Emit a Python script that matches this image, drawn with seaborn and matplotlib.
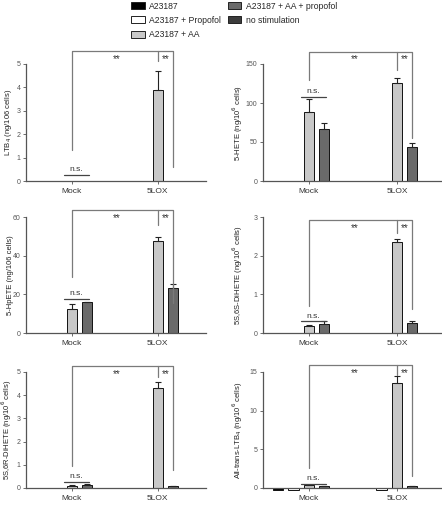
import matplotlib
matplotlib.use("Agg")
import matplotlib.pyplot as plt
from matplotlib.patches import Patch
import seaborn as sns
import pandas as pd
import numpy as np

sns.set_style("white")
plt.rcParams['font.family'] = ['Liberation Sans', 'DejaVu Sans']

# ---------------- data ----------------
cells = ["Mock", "5LOX"]
conditions = ["A23187", "A23187 + Propofol", "A23187 + AA",
              "A23187 + AA + propofol", "no stimulation"]
colors = ["#000000", "#ffffff", "#c8c8c8", "#6a6a6a", "#3c3c3c"]

ylabels = ["LTB$_4$ (ng/106 cells)",
           "5-HETE (ng/10$^6$ cells)",
           "5-HpETE (ng/106 cells)",
           "5S,6S-DiHETE (ng/10$^6$ cells)",
           "5S,6R-DiHETE (ng/10$^6$ cells)",
           "All-trans-LTB$_4$ (ng/10$^6$ cells)"]
ymax = [5, 150, 60, 3, 5, 15]
ytick_step = [1, 50, 20, 1, 1, 5]

# values per condition: [Mock, 5LOX]; None = not measured / not shown
ltb4_mean = {"A23187 + AA": [0.02, 3.9], "A23187 + AA + propofol": [0.02, 0.02]}
ltb4_err = {"A23187 + AA": [0.0, 0.81], "A23187 + AA + propofol": [0.0, 0.0]}

hete_mean = {"A23187 + AA": [89, 125.6], "A23187 + AA + propofol": [67, 44]}
hete_err = {"A23187 + AA": [16, 6.5], "A23187 + AA + propofol": [8, 4.4]}

hpete_mean = {"A23187 + AA": [12.5, 47.5], "A23187 + AA + propofol": [15.9, 23.1]}
hpete_err = {"A23187 + AA": [2.4, 2.2], "A23187 + AA + propofol": [0.2, 2.3]}

ss_mean = {"A23187 + AA": [0.18, 2.35], "A23187 + AA + propofol": [0.24, 0.26]}
ss_err = {"A23187 + AA": [0.03, 0.07], "A23187 + AA + propofol": [0.06, 0.05]}

sr_mean = {"A23187 + AA": [0.1, 4.31], "A23187 + AA + propofol": [0.14, 0.07]}
sr_err = {"A23187 + AA": [0.02, 0.26], "A23187 + AA + propofol": [0.02, 0.02]}

atltb4_mean = {"A23187": [-0.25, None], "A23187 + Propofol": [-0.2, -0.2],
               "A23187 + AA": [0.38, 13.6], "A23187 + AA + propofol": [0.25, 0.2]}
atltb4_err = {"A23187": [0.0, None], "A23187 + Propofol": [0.0, 0.0],
              "A23187 + AA": [0.05, 0.9], "A23187 + AA + propofol": [0.03, 0.03]}

panel_means = [ltb4_mean, hete_mean, hpete_mean, ss_mean, sr_mean, atltb4_mean]
panel_errs = [ltb4_err, hete_err, hpete_err, ss_err, sr_err, atltb4_err]

# significance annotation heights (data units): top line, left leg end,
# right leg end, middle leg end, n.s. line
sig_top = [5.54, 166, 63.4, 2.91, 5.26, 15.85]
sig_left = [1.33, 130, 29, 0.69, 0.93, 2.56]
sig_right = [0.61, 55, 15.4, 0.62, 0.79, 1.6]
sig_mid = [5.11, 142, 55.7, 2.59, 4.79, 14.66]
ns_line = [0.26, 108, 17.5, 0.30, 0.26, 0.56]

# ---------------- layout ----------------
W, H = 442, 505
fig = plt.figure(figsize=(W / 100, H / 100), dpi=100)

rows = [(64, 181), (217, 333), (372, 488)]
cols = [(26, 180, (-0.53, 1.56), -0.068), (263, 178, (-0.52, 1.5), -0.1)]

n = len(conditions)
total_w = 0.87
gap = 0.33
slot = total_w / n

line_col = "#7a7a7a"
spine_col = "#555555"

for k in range(6):
    r, c = divmod(k, 2)
    top, bot = rows[r]
    left, width, xl, lab_x = cols[c]
    ax = fig.add_axes([left / W, 1 - bot / H, width / W, (bot - top) / H])

    recs = []
    for cond in conditions:
        vals = panel_means[k].get(cond)
        if vals is None:
            continue
        for cell, v in zip(cells, vals):
            if v is not None:
                recs.append({"cell": cell, "cond": cond, "value": v})
    df = pd.DataFrame(recs)

    sns.barplot(data=df, x="cell", y="value", hue="cond", order=cells,
                hue_order=conditions, palette=dict(zip(conditions, colors)),
                width=total_w, gap=gap, edgecolor="#111111", linewidth=0.7,
                errorbar=None, legend=False, ax=ax)
    for p in ax.patches:
        p.set_clip_on(False)

    # error bars (upper only)
    for j, cond in enumerate(conditions):
        errs = panel_errs[k].get(cond)
        vals = panel_means[k].get(cond)
        if errs is None:
            continue
        for i, (v, e) in enumerate(zip(vals, errs)):
            if v is None or e is None or e <= 0:
                continue
            xpos = i + (j - (n - 1) / 2) * slot
            ax.errorbar([xpos], [v], yerr=[[0], [e]], fmt="none",
                        ecolor="#222222", elinewidth=0.8, capsize=2.5,
                        capthick=0.8, clip_on=False)

    ax.set_xlim(*xl)
    ax.set_ylim(0, ymax[k])
    ax.set_yticks(np.arange(0, ymax[k] + 0.001, ytick_step[k]))
    ax.set_xlabel("")
    ax.set_ylabel(ylabels[k], fontsize=5.5, color="#222222")
    ax.yaxis.set_label_coords(lab_x, 0.5)
    for s in ["top", "right"]:
        ax.spines[s].set_visible(False)
    for s in ["left", "bottom"]:
        ax.spines[s].set_color(spine_col)
        ax.spines[s].set_linewidth(0.9)
    ax.tick_params(axis="y", labelsize=5, length=2.5, width=0.6,
                   colors=spine_col, pad=1.5, direction="out", left=True)
    ax.tick_params(axis="x", labelsize=6, length=2, width=0.6,
                   colors=spine_col, pad=3, direction="out", bottom=True)
    for t in ax.get_xticklabels():
        t.set_color("#333333")

    # significance brackets
    x_r = 1 + (3 - (n - 1) / 2) * slot
    kw = dict(color=line_col, lw=0.9, clip_on=False)
    ax.plot([0, 0, x_r, x_r], [sig_left[k], sig_top[k], sig_top[k], sig_right[k]], **kw)
    ax.plot([1, 1], [sig_top[k], sig_mid[k]], **kw)
    off = ymax[k] * 0.025
    ax.text(0.52, sig_top[k] - off, "**", ha="center", va="top",
            fontsize=7, color="#333333")
    ax.text((1 + x_r) / 2, sig_top[k] - off, "**", ha="center", va="top",
            fontsize=7, color="#333333")
    ax.plot([-0.09, 0.2], [ns_line[k], ns_line[k]], color="#444444", lw=0.9,
            clip_on=False)
    ax.text(0.055, ns_line[k] + ymax[k] * 0.015, "n.s.", ha="center",
            va="bottom", fontsize=6, color="#333333")

# legend
handles = [Patch(facecolor=col, edgecolor="#222222", linewidth=0.7)
           for col in colors]
fig.legend(handles, conditions, loc="upper left",
           bbox_to_anchor=(129 / W, 1.0), ncol=2, frameon=False,
           fontsize=6.2, handlelength=1.6, handleheight=0.85,
           handletextpad=0.5, labelspacing=0.6, columnspacing=0.8,
           borderaxespad=0.1, borderpad=0.1)

fig.savefig("out.png", dpi=100)
